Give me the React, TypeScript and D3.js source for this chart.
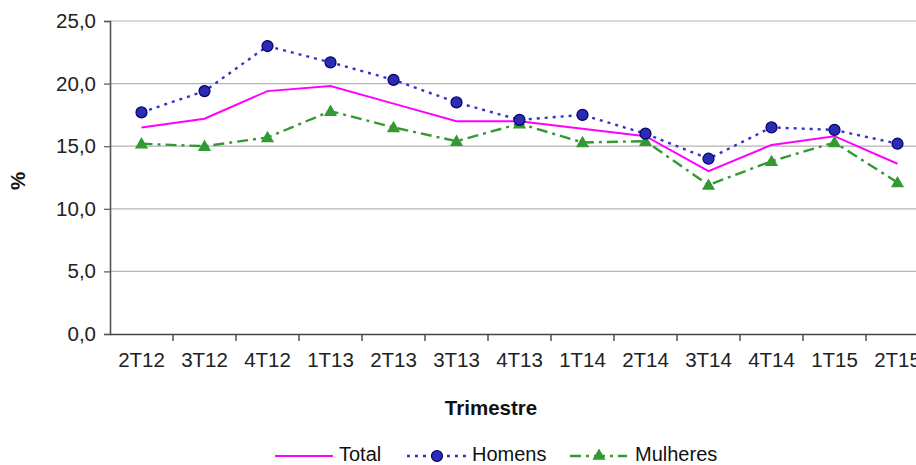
import { useRef, useEffect } from 'react'
import * as d3 from 'd3'

const trimestres = ['2T12', '3T12', '4T12', '1T13', '2T13', '3T13', '4T13', '1T14', '2T14', '3T14', '4T14', '1T15', '2T15']
const total = [16.5, 17.2, 19.4, 19.8, 18.4, 17.0, 17.0, 16.4, 15.8, 13.0, 15.1, 15.8, 13.6]
const homens = [17.7, 19.4, 23.0, 21.7, 20.3, 18.5, 17.1, 17.5, 16.0, 14.0, 16.5, 16.3, 15.2]
const mulheres = [15.2, 15.0, 15.7, 17.8, 16.5, 15.4, 16.8, 15.3, 15.4, 11.9, 13.8, 15.3, 12.1]
const yTicks = [0, 5, 10, 15, 20, 25]

const FONT = '"Liberation Sans", Arial, sans-serif'

const App = () => {
  const ref = useRef<SVGSVGElement>(null)

  useEffect(() => {
    if (!ref.current) return
    const svg = d3.select(ref.current)
    svg.selectAll('*').remove()
    const width = 916
    const height = 465
    svg.attr('width', width).attr('height', height)

    const x = d3.scaleBand<string>().domain(trimestres).range([110, 929])
    const y = d3.scaleLinear().domain([0, 25]).range([334, 21])
    const cx = (d: string) => (x(d) || 0) + x.bandwidth() / 2

    // grid
    svg.append('g')
      .selectAll('line')
      .data(yTicks.filter(t => t > 0))
      .enter()
      .append('line')
      .attr('x1', 110)
      .attr('x2', width)
      .attr('y1', d => y(d))
      .attr('y2', d => y(d))
      .attr('stroke', '#b4b4b4')
      .attr('stroke-width', 1.2)

    // y axis
    const yAxis = svg.append('g')
      .attr('transform', 'translate(110,0)')
      .call(d3.axisLeft(y).tickValues(yTicks).tickSize(6).tickPadding(8)
        .tickFormat(d => d3.format('.1f')(d as number).replace('.', ',')))
    yAxis.select('.domain').attr('stroke', '#555').attr('stroke-width', 1.6)
    yAxis.selectAll('.tick line').attr('stroke', '#555').attr('stroke-width', 1.2)
    yAxis.selectAll('.tick text')
      .attr('font-family', FONT).attr('font-size', 20.5).attr('fill', '#222')

    // x axis
    const xAxis = svg.append('g')
      .attr('transform', 'translate(0,334)')
      .call(d3.axisBottom(x).tickSize(0).tickPadding(18))
    xAxis.select('.domain').attr('stroke', '#444').attr('stroke-width', 1.6)
    xAxis.selectAll('.tick text')
      .attr('font-family', FONT).attr('font-size', 20.5).attr('fill', '#222')
    svg.append('g')
      .selectAll('line')
      .data(trimestres.slice(1))
      .enter()
      .append('line')
      .attr('x1', d => x(d) || 0)
      .attr('x2', d => x(d) || 0)
      .attr('y1', 334)
      .attr('y2', 341)
      .attr('stroke', '#444')
      .attr('stroke-width', 1.4)

    const line = d3.line<number>()
      .x((_, i) => cx(trimestres[i]))
      .y(d => y(d))

    // Mulheres
    svg.append('path')
      .attr('d', line(mulheres))
      .attr('fill', 'none')
      .attr('stroke', '#339933')
      .attr('stroke-width', 2.4)
      .attr('stroke-dasharray', '11,5,3,5')
    // Homens
    svg.append('path')
      .attr('d', line(homens))
      .attr('fill', 'none')
      .attr('stroke', '#3333cc')
      .attr('stroke-width', 2.4)
      .attr('stroke-dasharray', '3,5')
    // Total
    svg.append('path')
      .attr('d', line(total))
      .attr('fill', 'none')
      .attr('stroke', '#ff00ff')
      .attr('stroke-width', 2)

    const tri = d3.symbol().type(d3.symbolTriangle).size(75)
    svg.append('g')
      .selectAll('path')
      .data(mulheres)
      .enter()
      .append('path')
      .attr('d', tri)
      .attr('transform', (d, i) => `translate(${cx(trimestres[i])},${y(d) + 1})`)
      .attr('fill', '#339933')

    svg.append('g')
      .selectAll('circle')
      .data(homens)
      .enter()
      .append('circle')
      .attr('cx', (_, i) => cx(trimestres[i]))
      .attr('cy', d => y(d))
      .attr('r', 5.5)
      .attr('fill', '#2b2bb5')
      .attr('stroke', '#000066')
      .attr('stroke-width', 1.2)

    // axis titles
    svg.append('text')
      .attr('x', 491)
      .attr('y', 415)
      .attr('text-anchor', 'middle')
      .attr('font-family', FONT)
      .attr('font-size', 20.5)
      .attr('font-weight', 'bold')
      .attr('fill', '#111')
      .text('Trimestre')
    svg.append('text')
      .attr('transform', 'translate(25,181) rotate(-90)')
      .attr('text-anchor', 'middle')
      .attr('font-family', FONT)
      .attr('font-size', 20.5)
      .attr('font-weight', 'bold')
      .attr('fill', '#111')
      .text('%')

    // legend
    const ly = 456
    const leg = svg.append('g')
    leg.append('line').attr('x1', 275).attr('x2', 333).attr('y1', ly).attr('y2', ly)
      .attr('stroke', '#ff00ff').attr('stroke-width', 2)
    leg.append('line').attr('x1', 407).attr('x2', 467).attr('y1', ly).attr('y2', ly)
      .attr('stroke', '#3333cc').attr('stroke-width', 2.4).attr('stroke-dasharray', '3,5')
    leg.append('circle').attr('cx', 437).attr('cy', ly).attr('r', 5.5)
      .attr('fill', '#2b2bb5').attr('stroke', '#000066').attr('stroke-width', 1.2)
    leg.append('line').attr('x1', 570).attr('x2', 627).attr('y1', ly).attr('y2', ly)
      .attr('stroke', '#339933').attr('stroke-width', 2.4).attr('stroke-dasharray', '11,5,3,5')
    leg.append('path').attr('d', tri).attr('transform', `translate(599,${ly})`).attr('fill', '#339933')
    const names = [['Total', 339], ['Homens', 472], ['Mulheres', 635]] as const
    names.forEach(([n, lx]) => {
      leg.append('text')
        .attr('x', lx)
        .attr('y', 461)
        .attr('font-family', FONT)
        .attr('font-size', 20)
        .attr('fill', '#111')
        .text(n)
    })
  }, [])

  return <svg ref={ref} style={{ position: 'absolute', left: 0, top: 0, background: '#fff' }} />
}

export default App
